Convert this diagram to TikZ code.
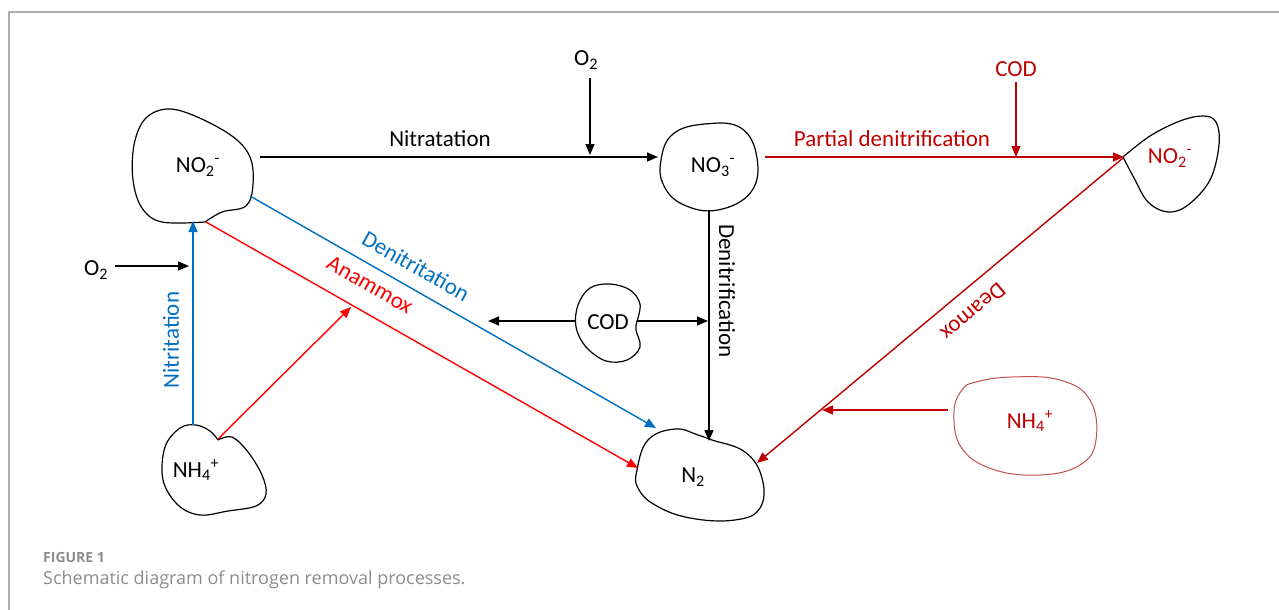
\documentclass[tikz,border=0pt]{standalone}
\usepackage{fontspec}
\setmainfont{Carlito}
\newfontfamily\capfont{Open Sans}
\usetikzlibrary{arrows.meta}
\definecolor{mblue}{HTML}{0070C0}
\definecolor{mred}{HTML}{FF0000}
\definecolor{dred}{HTML}{C00000}
\definecolor{pred}{HTML}{C0504D}
\definecolor{capgray}{HTML}{8C8C8C}
\tikzset{
  conn/.style={line width=1.4pt,-{Triangle[length=11pt,width=9pt]}},
  blob/.style={line width=1.2pt},
  lbl/.style={inner sep=0pt,font=\fontsize{23}{26}\selectfont},
}
\begin{document}
\begin{tikzpicture}[x=1pt,y=-1pt]
\useasboundingbox (0,0) rectangle (1279,610);
% frame
\draw[capgray!70,line width=1.2pt] (9,610) -- (9,12) -- (1279,12);
% blobs
\draw[blob] plot[smooth,tension=0.6] coordinates {(205,222) (222,212) (246,206) (253,185) (250,157) (232,136) (195,116) (167,109) (145,119) (134,145) (133,180) (142,208) (162,222) (205,222)};
\draw[blob] plot[smooth cycle,tension=0.7] coordinates {(661,160) (673,134) (705,124) (741,128) (757,158) (751,192) (718,210) (684,205) (664,186)};
\draw[blob] plot[smooth,tension=0.6] coordinates {(1123,157) (1150,136) (1180,121) (1203,116) (1216,122) (1219,145) (1210,180) (1188,205) (1168,212) (1148,202) (1134,178) (1123,157)};
\draw[blob] plot[smooth cycle,tension=0.7] coordinates {(637,470) (648,440) (675,429) (698,435) (712,440) (745,452) (762,478) (760,508) (735,520) (690,518) (655,505) (638,488)};
\draw[blob] plot[smooth,tension=0.6] coordinates {(637,321) (640,304) (630,290) (610,284) (590,288) (578,305) (576,327) (586,347) (606,361) (627,360) (640,347) (636,330) (637,321)};
\draw[blob] plot[smooth,tension=0.6] coordinates {(218,440) (232,437) (248,452) (262,475) (266,494) (256,506) (228,511) (200,515) (178,505) (163,480) (165,447) (180,428) (196,425) (210,431) (218,440)};
\draw[pred,line width=1pt] plot[smooth cycle,tension=0.7] coordinates {(976,382) (1012,377) (1060,380) (1090,400) (1096,440) (1080,465) (1040,475) (992,469) (961,447) (954,412) (962,390)};
% texts
\node[lbl] (no2l) at (198,167) {NO\textsubscript{2}\textsuperscript{-}};
\node[lbl] (no3) at (713,167) {NO\textsubscript{3}\textsuperscript{-}};
\node[lbl,dred] (no2r) at (1170,158) {NO\textsubscript{2}\textsuperscript{-}};
\node[lbl] (n2) at (693,477) {N\textsubscript{2}};
\node[lbl] (cod) at (608,322) {COD};
\node[lbl] (nh4l) at (196,470) {NH\textsubscript{4}\textsuperscript{+}};
\node[lbl,dred] (nh4r) at (1030,421) {NH\textsubscript{4}\textsuperscript{+}};
\node[lbl] (o2t) at (586,60) {O\textsubscript{2}};
\node[lbl,dred] (codt) at (1016,69) {COD};
\node[lbl] (o2l) at (96,270) {O\textsubscript{2}};
\node[lbl] (lnitrat) at (440,139) {Nitratation};
\node[lbl,dred] (lpart) at (892,139) {Partial denitrification};
\node[lbl,dred,rotate=-140.2] (ldeam) at (973,312) {Deamox};
\node[lbl,rotate=-90] (ldenif) at (727,291) {Denitrification};
\node[lbl,mblue,rotate=-29.6] (ldenit) at (416,266) {Denitritation};
\node[lbl,mred,rotate=-29.6] (lanam) at (370,285) {Anammox};
\node[lbl,mblue,rotate=90] (lnitrit) at (171,340) {Nitritation};
% connector endpoints
\coordinate (a1) at (260,157); \coordinate (a2) at (658,157);
\coordinate (b1) at (590,78); \coordinate (b2) at (590,155);
\coordinate (c1) at (765,157); \coordinate (c2) at (1124,157);
\coordinate (d1) at (1016,82); \coordinate (d2) at (1016,157);
\coordinate (e1) at (1123,158); \coordinate (e2) at (757,463);
\coordinate (f1) at (948,410); \coordinate (f2) at (822,410);
\coordinate (g1) at (709,210); \coordinate (g2) at (709,441);
\coordinate (h1) at (576,321); \coordinate (h2) at (488,321);
\coordinate (i1) at (637,321); \coordinate (i2) at (708,321);
\coordinate (j1) at (250,196); \coordinate (j2) at (656,428);
\coordinate (k1) at (206,222); \coordinate (k2) at (638,468);
\coordinate (l1) at (218,439); \coordinate (l2) at (351,307);
\coordinate (m1) at (193,425); \coordinate (m2) at (193,221);
\coordinate (n1) at (115,266); \coordinate (n2e) at (189,266);
% connectors
\draw[conn] (a1) -- (a2);
\draw[conn] (b1) -- (b2);
\draw[conn,dred] (c1) -- (c2);
\draw[conn,dred] (d1) -- (d2);
\draw[conn,dred] (e1) -- (e2);
\draw[conn,dred] (f1) -- (f2);
\draw[conn] (g1) -- (g2);
\draw[conn] (h1) -- (h2);
\draw[conn] (i1) -- (i2);
\draw[conn,mblue] (j1) -- (j2);
\draw[conn,mred] (k1) -- (k2);
\draw[conn,mred] (l1) -- (l2);
\draw[conn,mblue] (m1) -- (m2);
\draw[conn] (n1) -- (n2e);
% caption
\node[anchor=base west,inner sep=0pt,capgray,font=\capfont\bfseries\fontsize{14}{16}\selectfont] (fig) at (43,562) {FIGURE 1};
\node[anchor=base west,inner sep=0pt,capgray,font=\capfont\fontsize{18}{21}\selectfont] (cap) at (43,584) {Schematic diagram of nitrogen removal processes.};
\end{tikzpicture}
\end{document}
